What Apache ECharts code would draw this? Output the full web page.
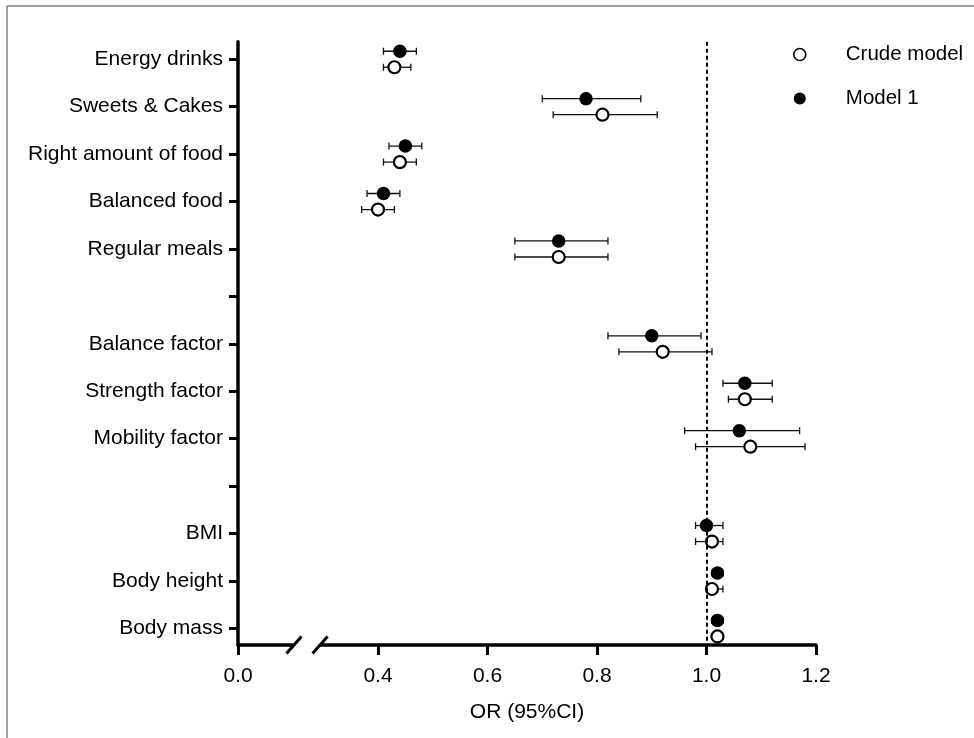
<!DOCTYPE html>
<html>
<head>
<meta charset="utf-8">
<script src="https://cdn.jsdelivr.net/npm/echarts@6/dist/echarts.min.js"></script>
<style>
  html, body { margin: 0; padding: 0; background: #fff; }
  #chart { width: 974px; height: 738px; }
</style>
</head>
<body>
<div id="chart"></div>
<script>
// ---------------- data ----------------
const categories = ['Energy drinks', 'Sweets & Cakes', 'Right amount of food', 'Balanced food', 'Regular meals', '',
  'Balance factor', 'Strength factor', 'Mobility factor', '', 'BMI', 'Body height', 'Body mass'];

const model1OR   = [0.44, 0.78, 0.45, 0.41, 0.73, null, 0.90, 1.07, 1.06, null, 1.00, 1.02, 1.02];
const model1Low  = [0.41, 0.70, 0.42, 0.38, 0.65, null, 0.82, 1.03, 0.96, null, 0.98, 1.01, 1.01];
const model1High = [0.47, 0.88, 0.48, 0.44, 0.82, null, 0.99, 1.12, 1.17, null, 1.03, 1.03, 1.03];

const crudeOR   = [0.43, 0.81, 0.44, 0.40, 0.73, null, 0.92, 1.07, 1.08, null, 1.01, 1.01, 1.02];
const crudeLow  = [0.41, 0.72, 0.41, 0.37, 0.65, null, 0.84, 1.04, 0.98, null, 0.98, 1.00, 1.01];
const crudeHigh = [0.46, 0.91, 0.47, 0.43, 0.82, null, 1.01, 1.12, 1.18, null, 1.03, 1.03, 1.03];

const xTickLabels = ['0.0', '0.4', '0.6', '0.8', '1.0', '1.2'];
const xTickValues = [0.4, 0.6, 0.8, 1.0, 1.2];   // real-scale ticks after the axis break
const referenceOR = 1.0;

// ---------------- layout / style ----------------
const axisStart = 0.1443;      // virtual position of the "0.0" label before the break
const rowOffset = 0.169;       // vertical separation of the two models inside a row
const breakFractions = [0.40, 0.586];

const fontFamily = '"Liberation Sans", Arial, sans-serif';
const fontSize = 21;

function buildRows(or, lo, hi, sign) {
  const pts = [], ci = [];
  for (let i = 0; i < categories.length; i++) {
    if (or[i] == null) continue;
    const y = i + sign * rowOffset;
    pts.push([or[i], y]);
    ci.push([lo[i], hi[i], y]);
  }
  return { pts, ci };
}
const m1 = buildRows(model1OR, model1Low, model1High, -1);
const cr = buildRows(crudeOR, crudeLow, crudeHigh, 1);

function renderCI(params, api) {
  const y = api.value(2);
  const a = api.coord([api.value(0), y]);
  const b = api.coord([api.value(1), y]);
  const h = 3.5;
  const st = { stroke: '#111', lineWidth: 1.3 };
  return {
    type: 'group',
    children: [
      { type: 'line', shape: { x1: a[0], y1: a[1], x2: b[0], y2: b[1] }, style: st },
      { type: 'line', shape: { x1: a[0], y1: a[1] - h, x2: a[0], y2: a[1] + h }, style: st },
      { type: 'line', shape: { x1: b[0], y1: b[1] - h, x2: b[0], y2: b[1] + h }, style: st }
    ]
  };
}

const allXTicks = [axisStart].concat(xTickValues);
function xLabel(v) {
  let best = 0, d = 1e9;
  allXTicks.forEach((t, i) => { if (Math.abs(t - v) < d) { d = Math.abs(t - v); best = i; } });
  return xTickLabels[best];
}
const rowIdx = categories.map((c, i) => i);
const yMin = -0.37, yMax = 12.35;

const chart = echarts.init(document.getElementById('chart'), null, { renderer: 'canvas' });

const txt = { fontFamily: fontFamily, fontSize: fontSize, color: '#000' };

const option = {
  backgroundColor: '#fff',
  animation: false,
  textStyle: { fontFamily: fontFamily },
  grid: { left: 238, right: 158, top: 41.7, bottom: 93, outerBoundsMode: 'none', containLabel: false },
  legend: {
    orient: 'vertical',
    left: 788,
    top: 38,
    itemGap: 21,
    itemWidth: 12,
    itemHeight: 12,
    selectedMode: false,
    textStyle: Object.assign({}, txt, { fontSize: 20.5, padding: [0, 0, 0, 35], lineHeight: 23 }),
    data: [
      { name: 'Crude model', icon: 'circle', itemStyle: { color: '#fff', borderColor: '#000', borderWidth: 1.6 } },
      { name: 'Model 1', icon: 'circle', itemStyle: { color: '#000', borderWidth: 0 } }
    ]
  },
  xAxis: {
    type: 'value',
    min: axisStart,
    max: 1.2,
    name: 'OR (95%CI)',
    nameLocation: 'middle',
    nameGap: 57,
    nameTextStyle: txt,
    axisLine: { show: true, onZero: false, lineStyle: { color: '#000', width: 3.5 } },
    axisTick: { show: true, customValues: allXTicks, length: 10, lineStyle: { color: '#000', width: 3 } },
    axisLabel: { show: true, customValues: allXTicks, formatter: xLabel, margin: 21, ...txt },
    splitLine: { show: false }
  },
  yAxis: {
    type: 'value',
    inverse: true,
    min: yMin,
    max: yMax,
    axisLine: { show: true, onZero: false, lineStyle: { color: '#000', width: 3.5 } },
    axisTick: { show: true, customValues: rowIdx, length: 9, lineStyle: { color: '#000', width: 3 } },
    axisLabel: { show: true, customValues: rowIdx, formatter: v => categories[Math.round(v)], margin: 15, ...txt },
    splitLine: { show: false }
  },
  series: [
    {
      name: 'Model 1 CI', type: 'custom', renderItem: renderCI, data: m1.ci,
      encode: { x: [0, 1], y: 2 }, silent: true, z: 2
    },
    {
      name: 'Crude model CI', type: 'custom', renderItem: renderCI, data: cr.ci,
      encode: { x: [0, 1], y: 2 }, silent: true, z: 2
    },
    {
      name: 'Crude model', type: 'scatter', data: cr.pts, symbol: 'circle', symbolSize: 12,
      itemStyle: { color: '#fff', borderColor: '#000', borderWidth: 2.2, opacity: 1 }, z: 3,
      markLine: {
        silent: true, symbol: 'none', label: { show: false },
        lineStyle: { color: '#000', width: 2, type: [4, 3] },
        data: [{ xAxis: referenceOR }]
      }
    },
    {
      name: 'Model 1', type: 'scatter', data: m1.pts, symbol: 'circle', symbolSize: 13.5,
      itemStyle: { color: '#000', opacity: 1 }, z: 4
    }
  ]
};
chart.setOption(option);

// Axis-break marks and page frame
function addDecorations() {
  const base = chart.convertToPixel({ gridIndex: 0 }, [axisStart, yMax]);
  const tick04 = chart.convertToPixel({ gridIndex: 0 }, [xTickValues[0], yMax]);
  const y0 = base[1];
  const cs = breakFractions.map(f => base[0] + f * (tick04[0] - base[0]));
  const g = [];
  g.push({ type: 'rect', z: 100, shape: { x: cs[0], y: y0 - 3, width: cs[1] - cs[0], height: 6 }, style: { fill: '#fff' } });
  cs.forEach(cx => {
    g.push({ type: 'line', z: 101, shape: { x1: cx - 7.5, y1: y0 + 8.5, x2: cx + 7.5, y2: y0 - 8.5 },
      style: { stroke: '#000', lineWidth: 3 } });
  });
  g.push({ type: 'line', z: 101, shape: { x1: 7, y1: 6, x2: 974, y2: 6 }, style: { stroke: '#808080', lineWidth: 1.5 } });
  g.push({ type: 'line', z: 101, shape: { x1: 7, y1: 6, x2: 7, y2: 738 }, style: { stroke: '#808080', lineWidth: 1.5 } });
  chart.setOption({ graphic: g });
}
addDecorations();
</script>
</body>
</html>
